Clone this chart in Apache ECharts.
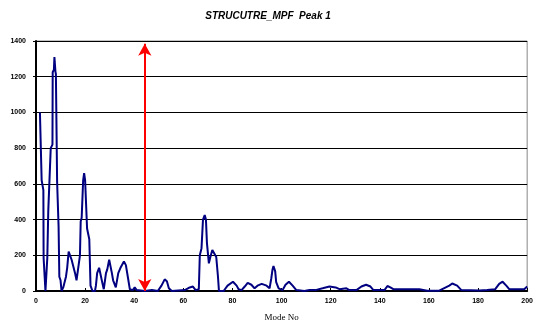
<!DOCTYPE html>
<html>
<head>
<meta charset="utf-8">
<script src="https://cdn.jsdelivr.net/npm/echarts@6/dist/echarts.min.js"></script>
<style>
  html, body { margin: 0; padding: 0; background: #fff; }
  #chart { width: 536px; height: 327px; }
</style>
</head>
<body>
<div id="chart"></div>
<script>
// Mode numbers and the response amplitude at each of them
const modes = [
  1.6, 2.3, 3.0, 3.1, 3.7, 3.85, 4.3, 4.6, 5.0, 5.4, 6.0, 6.7, 6.8, 7.3, 7.5, 7.9, 8.1, 8.6, 9.2, 9.5,
  10.0, 10.4, 11.1, 12.2, 12.7, 13.3, 14.1, 14.5, 15.2, 15.9, 16.5, 17.2, 17.9, 18.2, 18.6, 19.2, 19.6, 20.0, 20.6, 20.8,
  21.7, 22.2, 23.0, 24.0, 24.4, 24.9, 25.7, 26.3, 27.1, 27.6, 28.5, 29.0, 29.8, 30.4, 30.9, 31.4, 32.5, 33.5, 34.4, 35.8,
  36.6, 37.5, 38.2, 39.4, 40.2, 41.0, 44.3, 47.2, 49.6, 51.1, 52.4, 53.3, 54.1, 55.3, 60.6, 62.6, 63.9, 65.0, 66.3, 66.7,
  67.4, 68.0, 68.7, 69.2, 69.6, 70.0, 70.4, 71.0, 71.8, 72.6, 73.4, 74.1, 74.5, 76.4, 78.0, 80.2, 81.7, 82.5, 83.7, 85.0,
  86.2, 87.7, 89.0, 90.2, 91.9, 93.9, 95.1, 95.8, 96.3, 96.7, 97.4, 97.8, 98.8, 100.4, 101.6, 103.0, 104.5, 106.0, 109.3, 111.4,
  113.8, 116.7, 119.5, 122.0, 123.6, 126.4, 127.6, 130.5, 132.5, 134.4, 136.2, 137.4, 141.9, 143.1, 144.3, 145.5, 156.1, 159.3, 164.2, 168.3,
  169.5, 171.5, 173.2, 180.5, 183.7, 187.0, 188.6, 190.0, 191.5, 192.7, 198.8, 200.0
];
const amplitude = [
  1000, 620, 565, 185, 180, 0, 0, 185, 450, 460, 800, 820, 1225, 1240, 1310, 1230, 1215, 610, 360, 80,
  60, 0, 20, 80, 130, 220, 220, 175, 185, 100, 60, 130, 200, 390, 410, 620, 660, 620, 610, 350,
  290, 30, 0, 0, 30, 100, 130, 120, 40, 10, 100, 120, 175, 170, 100, 60, 20, 100, 130, 165,
  145, 70, 10, 5, 20, 5, 0, 5, 0, 30, 65, 55, 15, 0, 5, 20, 25, 5, 10, 200,
  240, 400, 425, 400, 270, 260, 155, 190, 230, 230, 190, 80, 0, 0, 30, 52, 30, 10, 5, 25,
  45, 35, 15, 30, 40, 30, 15, 70, 120, 140, 110, 50, 15, 5, 35, 52, 30, 5, 0, 5,
  5, 15, 25, 20, 10, 15, 5, 5, 25, 35, 25, 5, 5, 28, 20, 10, 10, 2, 2, 30,
  42, 30, 5, 3, 5, 10, 40, 52, 30, 10, 10, 25
];

// Marker for the peak position
const peakMode = 44.3;
const peakTop = 1385;

const xTicks = { min: 0, max: 200, step: 20 };
const yTicks = { min: 0, max: 1400, step: 200 };

const chart = echarts.init(document.getElementById('chart'), null, { renderer: 'canvas' });

const tickFont = {
  fontFamily: 'Liberation Sans',
  fontWeight: 'bold',
  fontSize: 7,
  color: '#000'
};

chart.setOption({
  animation: false,
  backgroundColor: '#fff',
  title: {
    text: 'STRUCUTRE_MPF  Peak 1',
    left: 'center',
    top: 6,
    textStyle: {
      fontFamily: 'Liberation Sans',
      fontStyle: 'italic',
      fontWeight: 'bold',
      fontSize: 10,
      color: '#000'
    }
  },
  grid: {
    left: 36, right: 8, top: 41, bottom: 36,
    show: true,
    borderColor: '#888',
    borderWidth: 1,
    backgroundColor: 'transparent'
  },
  xAxis: {
    type: 'value',
    min: xTicks.min, max: xTicks.max, interval: xTicks.step,
    name: 'Mode No',
    nameLocation: 'middle',
    nameGap: 22,
    nameTextStyle: { fontFamily: 'Liberation Serif', fontSize: 9, color: '#000' },
    axisLine: { lineStyle: { color: '#000', width: 2 } },
    axisTick: { inside: true, length: 3, lineStyle: { color: '#000', width: 1 } },
    axisLabel: Object.assign({ margin: 7, formatter: v => String(v) }, tickFont),
    splitLine: { show: false }
  },
  yAxis: {
    type: 'value',
    min: yTicks.min, max: yTicks.max, interval: yTicks.step,
    axisLine: { show: true, lineStyle: { color: '#000', width: 2 } },
    axisTick: { show: true, inside: false, length: 3, lineStyle: { color: '#000' } },
    axisLabel: Object.assign({ margin: 10, formatter: v => String(v) }, tickFont),
    splitLine: { show: true, lineStyle: { color: '#000', width: 1 } }
  },
  series: [{
    type: 'line',
    data: modes.map((m, i) => [m, amplitude[i]]),
    showSymbol: false,
    symbol: 'none',
    lineStyle: { color: '#000080', width: 2 },
    z: 3,
    markLine: {
      silent: true,
      symbol: ['arrow', 'arrow'],
      symbolSize: [10, 12],
      label: { show: false },
      lineStyle: { color: '#ff0000', width: 2, type: 'solid' },
      data: [[{ coord: [peakMode, 0] }, { coord: [peakMode, peakTop] }]]
    }
  }]
});
</script>
</body>
</html>
